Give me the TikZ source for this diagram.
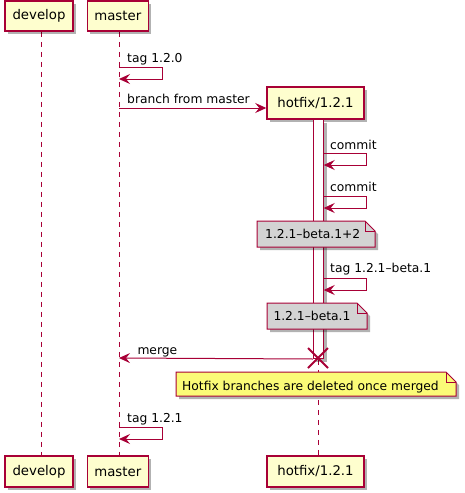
\documentclass[tikz,border=0pt]{standalone}
\usepackage{fontspec}
\setmainfont{DejaVu Sans}
\usetikzlibrary{arrows.meta,shadows,backgrounds,shapes.misc}
\definecolor{pumlred}{HTML}{A80036}
\definecolor{pumlfill}{HTML}{FEFECE}
\definecolor{pumlnote}{HTML}{FBFB77}
\definecolor{pumlgray}{HTML}{D3D3D3}
\begin{document}
\begin{tikzpicture}[x=1pt,y=-1pt,
  shadowed/.style={drop shadow={shadow xshift=3pt,shadow yshift=-3pt,fill=black,opacity=0.3}},
  participant/.style={draw=pumlred,line width=1.5pt,fill=pumlfill,shadowed,inner sep=0pt,
    font=\fontsize{13.3}{15}\selectfont,minimum height=30pt},
  msg/.style={anchor=base west,inner sep=0pt,font=\fontsize{12.3}{14}\selectfont},
  lifeline/.style={draw=pumlred,line width=1pt,dash pattern=on 5pt off 5pt},
  arrow/.style={draw=pumlred,line width=1pt,-{Stealth[length=11pt,width=10pt,inset=4pt]}},
  notebox/.style={draw=pumlred,line width=1pt,shadowed},
  notefold/.style={draw=pumlred,line width=1pt},
  actbar/.style={draw=pumlred,line width=1pt,fill=white,shadowed,inner sep=0pt,minimum width=10.4pt}
]
\useasboundingbox (0,0) rectangle (465,493);

% participants
\node[participant,minimum width=68pt] (devT) at (39,16) {develop};
\node[participant,minimum width=61pt] (masT) at (117.8,16) {master};
\node[participant,minimum width=97pt,minimum height=32pt] (hotT) at (315.5,103) {hotfix/1.2.1};
\node[participant,minimum width=68pt,minimum height=31pt] (devB) at (39,471.5) {develop};
\node[participant,minimum width=61pt,minimum height=31pt] (masB) at (117.8,471.5) {master};
\node[participant,minimum width=97pt,minimum height=31pt] (hotB) at (315.5,471.5) {hotfix/1.2.1};

% lifelines
\begin{pgfonlayer}{background}
\draw[lifeline] ([xshift=2.3pt]devT.south) -- ([xshift=2.3pt]devB.north);
\draw[lifeline] ([xshift=1.2pt]masT.south) -- ([xshift=1.2pt]masB.north);
\draw[lifeline] ([xshift=2.5pt]hotT.south) -- ([xshift=2.5pt]hotB.north);
\end{pgfonlayer}

% activation bar
\node[actbar,minimum height=239pt,anchor=north] (bar) at (318.5,119) {};

% message anchor points
\coordinate (t1a) at (119,67);
\coordinate (t1b) at (119,79);
\coordinate (br) at (119,108);
\coordinate (c1a) at (323.7,153);
\coordinate (c1b) at (323.7,165);
\coordinate (c2a) at (323.7,196);
\coordinate (c2b) at (323.7,208);
\coordinate (t2a) at (323.7,278);
\coordinate (t2b) at (323.7,290);
\coordinate (mg) at (119,358);
\coordinate (t3a) at (119,427);
\coordinate (t3b) at (119,439);

% messages
\draw[arrow] (t1a) -- ++(43,0) -- ++(0,12) -- (t1b);
\node[msg] (l1) at (127,62) {tag 1.2.0};

\draw[arrow] (br) -- (br -| hotT.west);
\node[msg] (l2) at (127,103.5) {branch from master};

\draw[arrow] (c1a) -- ++(42.5,0) -- ++(0,12) -- (c1b);
\node[msg] (l3) at (330,149) {commit};

\draw[arrow] (c2a) -- ++(42.5,0) -- ++(0,12) -- (c2b);
\node[msg] (l4) at (330,191) {commit};

% note 1
\filldraw[notebox,fill=pumlgray] (257,221) -- (365,221) -- (375,231) -- (375,247) -- (257,247) -- cycle;
\draw[notefold] (365,221) -- (365,231) -- (375,231);
\node[msg] (n1) at (265,238) {1.2.1–beta.1+2};

\draw[arrow] (t2a) -- ++(42.5,0) -- ++(0,12) -- (t2b);
\node[msg] (l5) at (330,272.7) {tag 1.2.1–beta.1};

% note 2
\filldraw[notebox,fill=pumlgray] (267,303) -- (357,303) -- (367,313) -- (367,329) -- (267,329) -- cycle;
\draw[notefold] (357,303) -- (357,313) -- (367,313);
\node[msg] (n2) at (273.3,320.7) {1.2.1–beta.1};

% merge + destroy
\draw[arrow] (bar.south west) -- (mg);
\node[msg] (l6) at (137.3,354.3) {merge};
\node[cross out,draw=pumlred,line width=2pt,minimum size=18pt,inner sep=0pt] (kill) at (318,358) {};

% note 3
\filldraw[notebox,fill=pumlnote] (176,372) -- (446,372) -- (456,382) -- (456,396) -- (176,396) -- cycle;
\draw[notefold] (446,372) -- (446,382) -- (456,382);
\node[msg] (n3) at (182,390) {Hotfix branches are deleted once merged};

\draw[arrow] (t3a) -- ++(43,0) -- ++(0,12) -- (t3b);
\node[msg] (l7) at (127,422) {tag 1.2.1};
\end{tikzpicture}
\end{document}
